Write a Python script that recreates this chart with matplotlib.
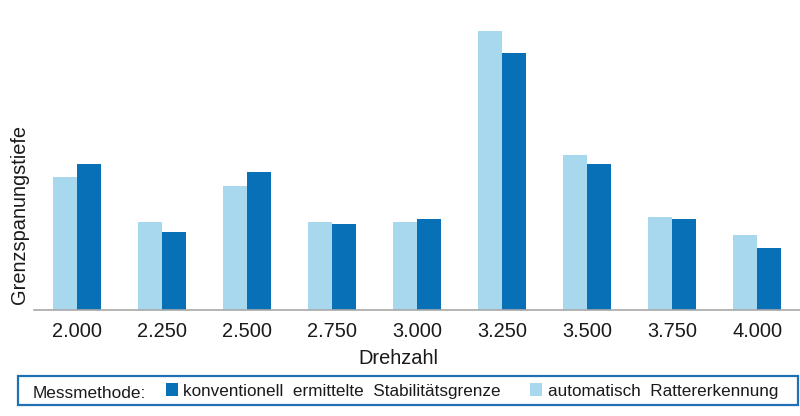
import matplotlib
matplotlib.use("Agg")
import matplotlib.pyplot as plt
from matplotlib.patches import Rectangle, Patch
import numpy as np

plt.rcParams['font.family'] = ['Liberation Sans', 'DejaVu Sans']

categories = ["2.000", "2.250", "2.500", "2.750", "3.000", "3.250", "3.500", "3.750", "4.000"]
automatisch = [1.33, 0.88, 1.24, 0.88, 0.88, 2.79, 1.55, 0.93, 0.75]
konventionell = [1.46, 0.78, 1.38, 0.86, 0.91, 2.57, 1.46, 0.91, 0.62]

light = "#a8d8ee"
dark = "#0870b6"

W, H = 800, 416
fig = plt.figure(figsize=(8, 4.16), dpi=100)
ax = fig.add_axes([34.5 / W, (H - 310) / H, 765.5 / W, 290 / H])

x = np.arange(len(categories))
w = 24 / 85
ax.bar(x - w / 2, automatisch, width=w, color=light, zorder=2)
ax.bar(x + w / 2, konventionell, width=w, color=dark, zorder=2)

ax.set_xlim(-0.5, len(categories) - 0.5)
ax.set_ylim(0, 2.9)
for s in ["top", "right", "left"]:
    ax.spines[s].set_visible(False)
ax.spines["bottom"].set_color("#a8a8a8")
ax.spines["bottom"].set_linewidth(1.2)
ax.set_yticks([])
ax.set_xticks(x)
ax.set_xticklabels(categories, fontsize=14.4, color="#1a1a1a")
ax.tick_params(axis="x", length=0, pad=8.5)

fig.text(398 / W, (H - 364) / H, "Drehzahl", ha="center", va="baseline", fontsize=14.4, color="#1a1a1a")
fig.text(20 / W, (H - 214) / H, "Grenzspanungstiefe", rotation=90, ha="center", va="center",
         fontsize=14.4, color="#1a1a1a")

# legend frame
fig.patches.append(Rectangle((18 / W, (H - 405) / H), 780 / W, 29 / H, transform=fig.transFigure,
                             fill=False, edgecolor="#1f70b4", linewidth=1.6))
fig.text(33 / W, (H - 398) / H, "Messmethode:", ha="left", va="baseline", fontsize=12.4, color="#1a1a1a")
handles = [Patch(facecolor=dark, edgecolor="none", label="konventionell  ermittelte  Stabilitätsgrenze"),
           Patch(facecolor=light, edgecolor="none", label="automatisch  Rattererkennung")]
fig.legend(handles=handles, loc="center left", bbox_to_anchor=(166 / W, (H - 391) / H), ncol=2,
           frameon=False, fontsize=12.3, handlelength=0.72, handleheight=0.72, handletextpad=0.3,
           columnspacing=1.7, borderpad=0, borderaxespad=0, labelcolor="#1a1a1a")

fig.savefig("out.png", dpi=100)
